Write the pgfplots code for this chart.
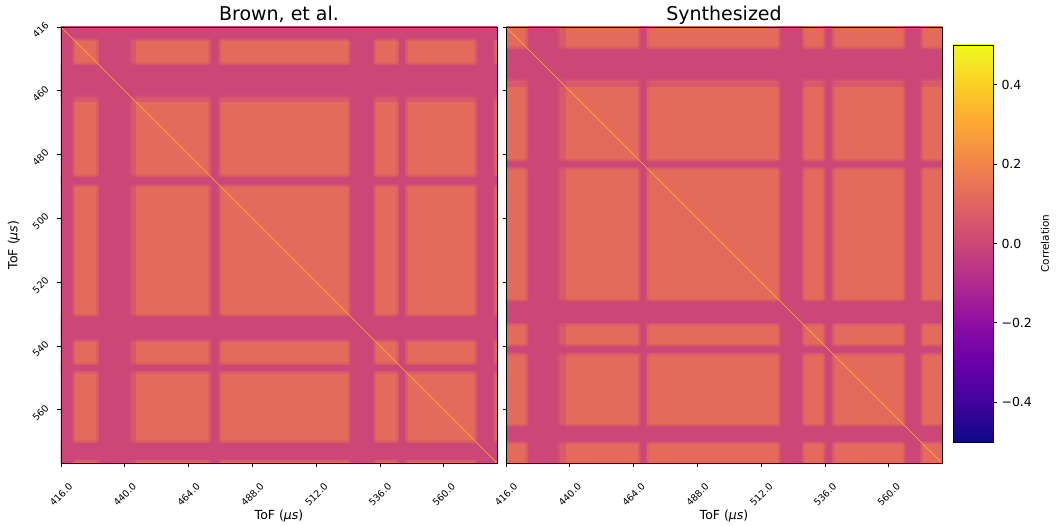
\documentclass[border=0pt]{standalone}
\usepackage{fontspec}
\setmainfont{DejaVu Sans}
\usepackage{pgfplots}
\pgfplotsset{compat=1.18}
\definecolor{lo}{RGB}{204,71,120}
\definecolor{hi}{RGB}{228,107,92}
\definecolor{diagc}{RGB}{250,180,40}
% plasma colour scale for the colour bar (bottom = -0.5, top = 0.5); TikZ fits the 25bp--75bp part to the path
\pgfdeclareverticalshading{plasmabar}{100bp}{rgb(0bp)=(0.051,0.031,0.529); rgb(25bp)=(0.051,0.031,0.529); rgb(30bp)=(0.255,0.016,0.616); rgb(35bp)=(0.416,0,0.659); rgb(40bp)=(0.561,0.051,0.643); rgb(45bp)=(0.694,0.165,0.565); rgb(50bp)=(0.8,0.278,0.471); rgb(55bp)=(0.882,0.392,0.384); rgb(60bp)=(0.949,0.518,0.294); rgb(65bp)=(0.988,0.651,0.212); rgb(70bp)=(0.988,0.808,0.145); rgb(75bp)=(0.941,0.976,0.129); rgb(100bp)=(0.941,0.976,0.129)}
% dark column / row bands of the correlation map (ToF limits of each band)
\newcommand\vband[2]{%
  \addplot[forget plot, draw=lo, draw opacity=0.28, line width=6pt, fill=none] coordinates {(#1,400) (#2,400) (#2,600) (#1,600) (#1,400)};
  \addplot[forget plot, fill=lo, draw=lo, draw opacity=0.4, line width=3pt] coordinates {(#1,400) (#2,400) (#2,600) (#1,600) (#1,400)};}
\newcommand\hband[2]{%
  \addplot[forget plot, draw=lo, draw opacity=0.28, line width=6pt, fill=none] coordinates {(400,#1) (400,#2) (600,#2) (600,#1) (400,#1)};
  \addplot[forget plot, fill=lo, draw=lo, draw opacity=0.4, line width=3pt] coordinates {(400,#1) (400,#2) (600,#2) (600,#1) (400,#1)};}
\newcommand\vmed[2]{%
  \addplot[forget plot, fill=lo, fill opacity=0.45, draw=none] coordinates {(#1,400) (#2,400) (#2,600) (#1,600)};}
\newcommand\hmed[2]{%
  \addplot[forget plot, fill=lo, fill opacity=0.45, draw=none] coordinates {(400,#1) (400,#2) (600,#2) (600,#1)};}
\pgfplotsset{hm/.style={
  scale only axis, width=436pt, height=436pt,
  xmin=416, xmax=580, ymin=416, ymax=580, y dir=reverse,
  axis on top, tick align=outside, tick pos=left,
  major tick length=3.5pt,
  every tick/.style={black, line width=0.8pt},
  axis line style={black, line width=0.8pt},
  xtick={416,440,464,488,512,536,560},
  xticklabels={416.0,440.0,464.0,488.0,512.0,536.0,560.0},
  ytick={416,440,464,488,512,536,560},
  tick label style={font=\fontsize{9.5}{10}\selectfont},
  xticklabel style={yshift=-28pt, rotate=45, anchor=center},
  yticklabel style={xshift=-17pt, yshift=-3pt, rotate=45, anchor=center},
  every axis title/.style={at={(axis description cs:0.5,1)}, anchor=base, yshift=6pt, font=\fontsize{19}{22}\selectfont},
  every axis x label/.style={at={([yshift=-53pt]axis description cs:0.5,0)}, anchor=center, font=\fontsize{12.5}{14}\selectfont},
  every axis y label/.style={at={([xshift=-47pt]axis description cs:0,0.5)}, rotate=90, anchor=center, font=\fontsize{12.5}{14}\selectfont},
  xlabel={ToF ({\itshape μs})},
}}
\begin{document}
\begin{tikzpicture}[x=1pt,y=1pt]
\path[use as bounding box] (0,0) rectangle (1057,526);
% ---------------- left panel ----------------
\begin{axis}[hm, at={(61pt,63pt)}, anchor=south west,
  title={Brown, et al.},
  yticklabels={416,460,480,500,520,540,560},
  ylabel={ToF ({\itshape μs})}]
\addplot[forget plot, draw=none, fill=hi] coordinates {(400,400) (600,400) (600,600) (400,600)};
\vband{400}{420.3}
\vband{430.3}{441.6}
\vband{472.6}{475.1}
\vband{524.9}{533.4}
\vband{543.2}{545.3}
\vband{572.6}{578.6}
\hband{400}{420.3}
\hband{430.3}{441.6}
\hband{472.6}{475.1}
\hband{524.9}{533.4}
\hband{543.2}{545.3}
\hband{572.6}{578.6}
\vmed{441.6}{444.3}
\hmed{441.6}{444.3}
\addplot[forget plot, diagc, line width=0.6pt] coordinates {(416,416) (580,580)};
\end{axis}
% ---------------- right panel ----------------
\begin{axis}[hm, at={(506pt,63pt)}, anchor=south west,
  title={Synthesized},
  yticklabels={}]
\addplot[forget plot, draw=none, fill=hi] coordinates {(400,400) (600,400) (600,600) (400,600)};
\vband{424.4}{435.3}
\vband{466.6}{468.6}
\vband{519.3}{527.3}
\vband{536.3}{538.5}
\vband{566.3}{571.8}
\hband{424.4}{435.3}
\hband{466.6}{468.6}
\hband{519.3}{527.3}
\hband{536.3}{538.5}
\hband{566.3}{571.8}
\vmed{435.3}{438.4}
\hmed{435.3}{438.4}
\addplot[forget plot, diagc, line width=0.6pt] coordinates {(416,416) (580,580)};
\end{axis}
% ---------------- colour bar ----------------
\begin{axis}[at={(953pt,84pt)}, anchor=south west,
  scale only axis, width=40pt, height=397pt,
  xmin=0, xmax=1, ymin=-0.5, ymax=0.5,
  axis on top, xtick=\empty,
  ytick={-0.4,-0.2,0,0.2,0.4},
  yticklabels={−0.4,−0.2,0.0,0.2,0.4},
  ytick pos=right, yticklabel pos=right,
  tick align=outside, major tick length=3.5pt,
  every tick/.style={black, line width=0.8pt},
  axis line style={black, line width=0.8pt},
  yticklabel style={font=\fontsize{12.5}{14}\selectfont, anchor=west, xshift=1.5pt},
  ylabel={Correlation},
  every axis y label/.style={at={([xshift=52pt]axis description cs:1,0.5)}, rotate=90, anchor=center, font=\fontsize{10.5}{12}\selectfont}]
\path[shading=plasmabar] (axis cs:0,-0.5) rectangle (axis cs:1,0.5);
\end{axis}
\end{tikzpicture}
\end{document}
